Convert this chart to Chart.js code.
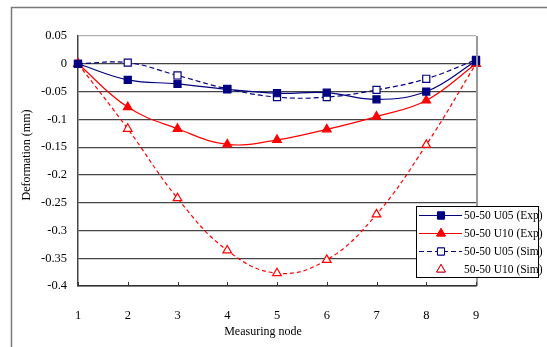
<!DOCTYPE html>
<html>
<head>
<meta charset="utf-8">
<script src="https://cdn.jsdelivr.net/npm/chart.js@4"></script>
<style>
  html, body { margin: 0; padding: 0; background: #fff; }
  #wrap { width: 547px; height: 347px; position: relative; }
</style>
</head>
<body>
<div id="wrap"><canvas id="chart"></canvas></div>
<script>
const nodes = ['1', '2', '3', '4', '5', '6', '7', '8', '9']
const u05Exp = [0, -0.029, -0.036, -0.046, -0.053, -0.052, -0.064, -0.050, 0.005]
const u10Exp = [0, -0.078, -0.117, -0.145, -0.137, -0.118, -0.095, -0.066, 0]
const u05Sim = [0, 0.002, -0.021, -0.045, -0.060, -0.060, -0.047, -0.027, 0.007]
const u10Sim = [0, -0.117, -0.242, -0.336, -0.377, -0.353, -0.271, -0.146, 0]
const seriesNames = ['50-50 U05 (Exp)', '50-50 U10 (Exp)', '50-50 U05 (Sim)', '50-50 U10 (Sim)']

const NAVY = '#000080'
const RED = '#ff0000'
const SERIF = '"Liberation Serif", "Times New Roman", serif'

// frame, inner x ticks, axis titles and the boxed legend
const decor = {
  id: 'decor',
  beforeDraw(chart) {
    const ctx = chart.ctx
    ctx.save()
    ctx.strokeStyle = '#7a7a7a'
    ctx.lineWidth = 1.5
    ctx.beginPath()
    ctx.moveTo(11.5, 347)
    ctx.lineTo(11.5, 7.5)
    ctx.lineTo(547, 7.5)
    ctx.stroke()
    ctx.restore()
  },
  afterDatasetsDraw(chart) {
    const ctx = chart.ctx
    const a = chart.chartArea
    const xs = chart.scales.x
    ctx.save()
    // light right edge of the plot
    ctx.fillStyle = '#999'
    ctx.fillRect(Math.round(a.right), Math.round(a.top), 2, Math.round(a.bottom - a.top))

    ctx.strokeStyle = '#333'
    ctx.lineWidth = 1
    nodes.forEach((n, i) => {
      const px = Math.round(xs.getPixelForValue(i)) + 0.5
      ctx.beginPath()
      ctx.moveTo(px, a.bottom)
      ctx.lineTo(px, a.bottom - 4)
      ctx.stroke()
    })

    ctx.fillStyle = '#000'
    ctx.font = '12px ' + SERIF
    ctx.textAlign = 'center'
    ctx.textBaseline = 'middle'
    ctx.fillText('Measuring node', 263, 332)
    ctx.translate(27, 155)
    ctx.rotate(-Math.PI / 2)
    ctx.fillText('Deformation (mm)', 0, 0)
    ctx.restore()

    // legend
    const lx = 416, ly = 206, lw = 122, lh = 71
    ctx.save()
    ctx.fillStyle = '#fff'
    ctx.fillRect(lx, ly, lw, lh)
    ctx.strokeStyle = '#000'
    ctx.lineWidth = 1
    ctx.strokeRect(lx + 0.5, ly + 0.5, lw, lh)
    chart.data.datasets.forEach((ds, i) => {
      const y = ly + 9.5 + i * 18
      if (ds.legendLine) {
        ctx.strokeStyle = ds.borderColor
        ctx.lineWidth = 1
        ctx.setLineDash(ds.borderDash || [])
        ctx.beginPath()
        ctx.moveTo(lx + 3, y)
        ctx.lineTo(lx + 46, y)
        ctx.stroke()
        ctx.setLineDash([])
      }
      Chart.helpers.drawPoint(ctx, {
        pointStyle: ds.pointStyle,
        radius: ds.pointRadius,
        borderWidth: 1
      }, lx + 25, y)
      ctx.fillStyle = ds.pointBackgroundColor
      ctx.strokeStyle = ds.pointBorderColor
      ctx.fill()
      ctx.stroke()
      ctx.fillStyle = '#000'
      ctx.font = '11.5px ' + SERIF
      ctx.textAlign = 'left'
      ctx.textBaseline = 'middle'
      ctx.fillText(ds.label, lx + 48, y + 0.5)
    })
    ctx.restore()
  }
}

new Chart(document.getElementById('chart'), {
  type: 'line',
  data: {
    labels: nodes,
    datasets: [
      {
        label: seriesNames[0], data: u05Exp,
        borderColor: NAVY, borderWidth: 1.2, legendLine: true,
        pointStyle: 'rect', pointRadius: 5,
        pointBackgroundColor: NAVY, pointBorderColor: NAVY
      },
      {
        label: seriesNames[1], data: u10Exp,
        borderColor: RED, borderWidth: 1.2, legendLine: true,
        pointStyle: 'triangle', pointRadius: 5,
        pointBackgroundColor: RED, pointBorderColor: RED
      },
      {
        label: seriesNames[2], data: u05Sim,
        borderColor: NAVY, borderWidth: 1.2, borderDash: [5, 3], legendLine: true,
        pointStyle: 'rect', pointRadius: 5,
        pointBackgroundColor: '#fff', pointBorderColor: NAVY
      },
      {
        label: seriesNames[3], data: u10Sim,
        borderColor: RED, borderWidth: 1.2, borderDash: [4, 3], legendLine: false,
        pointStyle: 'triangle', pointRadius: 5,
        pointBackgroundColor: '#fff', pointBorderColor: RED
      }
    ]
  },
  options: {
    responsive: true,
    maintainAspectRatio: false,
    animation: false,
    layout: { padding: { top: 36, right: 71, left: 0, bottom: 0 } },
    elements: { line: { tension: 0.4, fill: false }, point: { borderWidth: 1 } },
    plugins: { legend: { display: false }, tooltip: { enabled: false } },
    scales: {
      x: {
        type: 'category',
        offset: false,
        afterFit(s) { s.height = 61 },
        grid: { display: false },
        border: { color: '#333', width: 1.5 },
        ticks: { color: '#000', font: { family: SERIF, size: 12.5 }, padding: 14, maxRotation: 0 }
      },
      y: {
        min: -0.4,
        max: 0.05,
        afterFit(s) { s.width = 78 },
        border: { color: '#444', width: 1.5 },
        grid: {
          color: c => (c.tick && c.tick.value > 0.04) ? '#b0b0b0' : '#444',
          lineWidth: 1.2,
          drawTicks: false
        },
        ticks: {
          stepSize: 0.05,
          color: '#000',
          padding: 11,
          font: { family: SERIF, size: 12.5 },
          callback: v => String(Math.round(v * 100) / 100)
        }
      }
    }
  },
  plugins: [decor]
})
</script>
</body>
</html>
